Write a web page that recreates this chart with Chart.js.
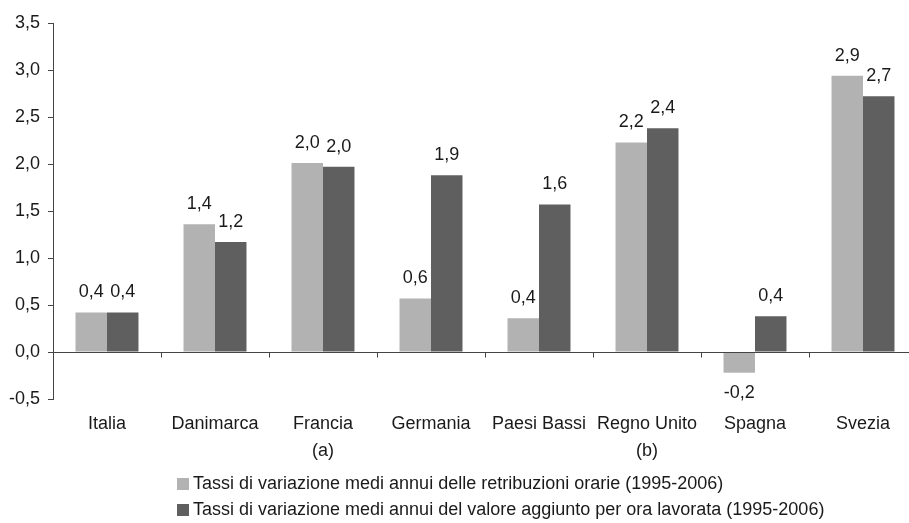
<!DOCTYPE html>
<html>
<head>
<meta charset="utf-8">
<script src="https://cdn.jsdelivr.net/npm/chart.js@4"></script>
<style>
    html, body { margin: 0; padding: 0; background: #fff; overflow: hidden; }
    #wrap { position: relative; width: 909px; height: 523px; overflow: hidden; }
    #chart { position: absolute; left: 0; top: 0; }
    .legend-row {
        position: absolute; left: 177px; height: 20px; line-height: 20px;
        font: 18px "Liberation Sans", Arial, sans-serif; color: #1a1a1a; white-space: nowrap;
    }
    .legend-row .box { display: inline-block; width: 12px; height: 12px; margin-right: 4px; vertical-align: -1px; }
</style>
</head>
<body>
<div id="wrap">
    <canvas id="chart" width="930" height="523"></canvas>
</div>
<script>
const paesi = [['Italia'], ['Danimarca'], ['Francia', '(a)'], ['Germania'], ['Paesi Bassi'], ['Regno Unito', '(b)'], ['Spagna'], ['Svezia']];
const retribuzioni = [0.42, 1.36, 2.01, 0.57, 0.36, 2.23, -0.22, 2.94];
const valoreAggiunto = [0.42, 1.17, 1.97, 1.88, 1.57, 2.38, 0.38, 2.72];
const etichette = [
    'Tassi di variazione medi annui delle retribuzioni orarie (1995-2006)',
    'Tassi di variazione medi annui del valore aggiunto per ora lavorata (1995-2006)'
];
const yTicks = [-0.5, 0, 0.5, 1, 1.5, 2, 2.5, 3, 3.5];

const FONT = '"Liberation Sans", Arial, sans-serif';
const fmt = v => v.toFixed(1).replace('.', ',');

// etichette dei valori sopra/sotto le barre
const valueLabels = {
    id: 'valueLabels',
    afterDatasetsDraw(chart) {
        const ctx = chart.ctx;
        ctx.save();
        ctx.font = '18px ' + FONT;
        ctx.fillStyle = '#1a1a1a';
        ctx.textAlign = 'center';
        ctx.textBaseline = 'middle';
        chart.data.datasets.forEach((ds, i) => {
            chart.getDatasetMeta(i).data.forEach((bar, j) => {
                const v = ds.data[j];
                ctx.fillText(fmt(v), bar.x, v >= 0 ? bar.y - 20 : bar.y + 20);
            });
        });
        ctx.restore();
    }
};

// asse orizzontale sullo zero con le tacche tra le categorie
const zeroAxis = {
    id: 'zeroAxis',
    afterDatasetsDraw(chart) {
        const { ctx, chartArea, scales } = chart;
        const y0 = Math.round(scales.y.getPixelForValue(0)) + 0.5;
        ctx.save();
        ctx.strokeStyle = '#444';
        ctx.lineWidth = 1;
        ctx.beginPath();
        ctx.moveTo(chartArea.left, y0);
        ctx.lineTo(chartArea.right, y0);
        for (let i = 1; i < paesi.length; i++) {
            const x = Math.round((scales.x.getPixelForValue(i - 1) + scales.x.getPixelForValue(i)) / 2) + 0.5;
            ctx.moveTo(x, y0);
            ctx.lineTo(x, y0 + 5);
        }
        ctx.stroke();
        ctx.restore();
    }
};

const colori = ['#b2b2b2', '#5f5f5f'];

const chart = new Chart(document.getElementById('chart').getContext('2d'), {
    type: 'bar',
    data: {
        labels: paesi,
        datasets: [
            { label: etichette[0], data: retribuzioni, backgroundColor: colori[0] },
            { label: etichette[1], data: valoreAggiunto, backgroundColor: colori[1] }
        ]
    },
    options: {
        responsive: false,
        animation: false,
        devicePixelRatio: 1,
        layout: { padding: { top: 23, right: 13, bottom: 0, left: 0 } },
        datasets: { bar: { barPercentage: 1, categoryPercentage: 0.583 } },
        plugins: {
            legend: { display: false },
            tooltip: { enabled: false }
        },
        scales: {
            x: {
                grid: { display: false, drawTicks: false, tickLength: 0 },
                border: { display: false },
                ticks: {
                    color: '#1a1a1a',
                    font: { family: FONT, size: 18, lineHeight: 1.5 },
                    padding: 12,
                    maxRotation: 0,
                    autoSkip: false
                },
                afterFit: s => { s.height = 124; }
            },
            y: {
                min: -0.5,
                max: 3.5,
                afterBuildTicks: s => { s.ticks = yTicks.map(v => ({ value: v })); },
                grid: { drawOnChartArea: false, color: '#444', tickLength: 5 },
                border: { color: '#444' },
                ticks: {
                    color: '#1a1a1a',
                    font: { family: FONT, size: 18 },
                    padding: 8,
                    callback: v => fmt(v)
                },
                afterFit: s => { s.width = 53; }
            }
        }
    },
    plugins: [valueLabels, zeroAxis]
});

// legenda sotto il grafico
const wrap = document.getElementById('wrap');
chart.data.datasets.forEach((ds, i) => {
    const row = document.createElement('div');
    row.className = 'legend-row';
    row.style.top = (473 + i * 26) + 'px';
    const box = document.createElement('span');
    box.className = 'box';
    box.style.background = ds.backgroundColor;
    row.appendChild(box);
    row.appendChild(document.createTextNode(ds.label));
    wrap.appendChild(row);
});
</script>
</body>
</html>
